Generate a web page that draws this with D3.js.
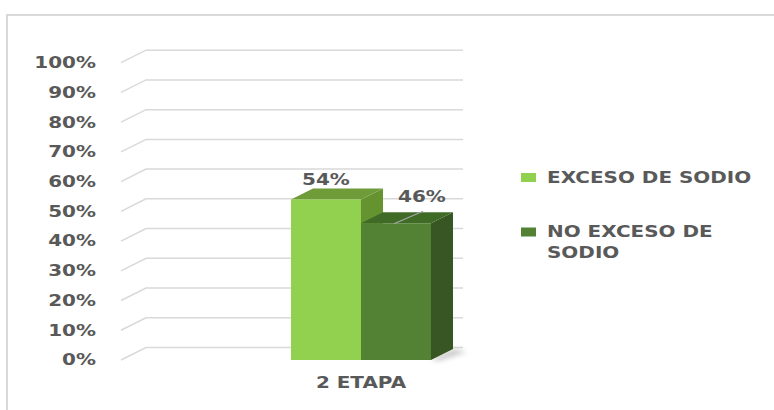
<!DOCTYPE html>
<html>
<head>
<meta charset="utf-8">
<script src="https://cdn.jsdelivr.net/npm/d3@7"></script>
<style>
  html, body { margin: 0; padding: 0; background: #fff; }
  svg { display: block; }
  text { font-family: "DejaVu Sans", sans-serif; font-weight: bold; fill: #595959; }
</style>
</head>
<body>
<svg id="chart" width="774" height="410"></svg>
<script>
// ---- data ----
const categories = ["2 ETAPA"];
const seriesNames = ["EXCESO DE SODIO", "NO EXCESO DE SODIO"];
const values = [0.54, 0.46];
const valueLabels = ["54%", "46%"];
const frontColors = ["#92d050", "#548235"];
const topColors = ["#6f9c38", "#3f6b26"];
const sideColors = ["#65932f", "#375623"];

// ---- layout ----
const W = 774, H = 410;
const STRETCH = 1.33;          // the reference text is horizontally stretched
const depthX = 25, depthY = -12.5; // wall depth (3D offset)
const barDX = 22, barDY = -11;     // bar depth

const svg = d3.select("#chart");

// frame
svg.append("path")
  .attr("d", `M7,${H} L7,15 L${W},15`)
  .attr("fill", "none").attr("stroke", "#d9d9d9").attr("stroke-width", 2);

const y = d3.scaleLinear().domain([0, 1]).range([360, 62.7]);
const xFrontLeft = 121, xWallRight = 463;

const x0 = d3.scaleBand().domain(categories).range([284, 438]).paddingInner(0).paddingOuter(0.05);
const x1 = d3.scaleBand().domain(seriesNames).range([0, x0.bandwidth()]);

function stretchText(sel, factor) {
  sel.each(function () {
    const n = this.getComputedTextLength();
    d3.select(this).attr("textLength", n * factor).attr("lengthAdjust", "spacingAndGlyphs");
  });
}

// gridlines (slanted floor edge + back wall line)
const ticks = y.ticks(10);
const grid = svg.append("g");
grid.selectAll("path").data(ticks).join("path")
  .attr("d", d => `M${xFrontLeft},${y(d)} L${xFrontLeft + depthX},${y(d) + depthY} L${xWallRight},${y(d) + depthY}`)
  .attr("fill", "none").attr("stroke", "#d9d9d9").attr("stroke-width", 1.5);

// y tick labels
const fmt = d3.format(".0%");
const yl = svg.append("g").selectAll("text").data(ticks).join("text")
  .attr("x", 96).attr("y", d => y(d)).attr("dy", "0.36em")
  .attr("text-anchor", "end").attr("font-size", 15)
  .text(d => fmt(d));
stretchText(yl, STRETCH);

// shadow filter
const defs = svg.append("defs");
defs.append("filter").attr("id", "blur").attr("x", "-50%").attr("y", "-50%").attr("width", "200%").attr("height", "200%")
  .append("feGaussianBlur").attr("stdDeviation", 2.5);

// bars
const bars = svg.append("g");
categories.forEach(cat => {
  const lastX = x0(cat) + x1(seriesNames[seriesNames.length - 1]) + x1.bandwidth();
  const y0 = y(0);
  // floor shadow
  bars.append("path")
    .attr("d", `M${lastX},${y0 - 1} L${lastX + barDX},${y0 + barDY} L${lastX + barDX + 14},${y0 + barDY + 3} L${lastX + 8},${y0 + 1} Z`)
    .attr("fill", "#9a9a9a").attr("opacity", 0.5).attr("filter", "url(#blur)");

  seriesNames.forEach((s, i) => {
    const xl = x0(cat) + x1(s), xr = xl + x1.bandwidth();
    const yt = y(values[i]), yb = y(0);
    const g = bars.append("g");
    // right side
    g.append("path")
      .attr("d", `M${xr},${yt} L${xr + barDX},${yt + barDY} L${xr + barDX},${yb + barDY} L${xr},${yb} Z`)
      .attr("fill", sideColors[i]);
    // top
    g.append("path")
      .attr("d", `M${xl},${yt} L${xl + barDX},${yt + barDY} L${xr + barDX},${yt + barDY} L${xr},${yt} Z`)
      .attr("fill", topColors[i]);
    // front
    g.append("rect")
      .attr("x", xl).attr("y", yt).attr("width", xr - xl).attr("height", yb - yt)
      .attr("fill", frontColors[i]);
  });

  // value labels
  seriesNames.forEach((s, i) => {
    const xc = x0(cat) + x1(s) + x1.bandwidth() / 2;
    const yt = y(values[i]);
    const offX = i === 1 ? 26 : 0;
    if (i === 1) {
      bars.append("line")
        .attr("x1", xc - 2).attr("y1", yt + 0.5)
        .attr("x2", xc + offX + 1).attr("y2", yt - 12)
        .attr("stroke", "#a6a6a6").attr("stroke-width", 1.3);
    }
    const t = bars.append("text")
      .attr("x", xc + offX).attr("y", yt + barDY - 3 - (i === 1 ? 7 : 0))
      .attr("text-anchor", "middle").attr("font-size", 15)
      .text(valueLabels[i]);
    stretchText(t, STRETCH);
  });

  // category label
  const cl = svg.append("text")
    .attr("x", x0(cat) + x0.bandwidth() / 2).attr("y", 387.5)
    .attr("text-anchor", "middle").attr("font-size", 15)
    .text(cat);
  stretchText(cl, STRETCH);
});

// legend
const legendLines = [["EXCESO DE SODIO"], ["NO EXCESO DE", "SODIO"]];
const legendY = [177.5, 232];
const lg = svg.append("g");
seriesNames.forEach((s, i) => {
  lg.append("rect")
    .attr("x", 521).attr("y", legendY[i] - 4.5).attr("width", 15).attr("height", 9)
    .attr("fill", frontColors[i]);
  legendLines[i].forEach((ln, j) => {
    const t = lg.append("text")
      .attr("x", 547).attr("y", legendY[i] + j * 21).attr("dy", "0.36em")
      .attr("font-size", 15).text(ln);
    stretchText(t, STRETCH);
  });
});
</script>
</body>
</html>
